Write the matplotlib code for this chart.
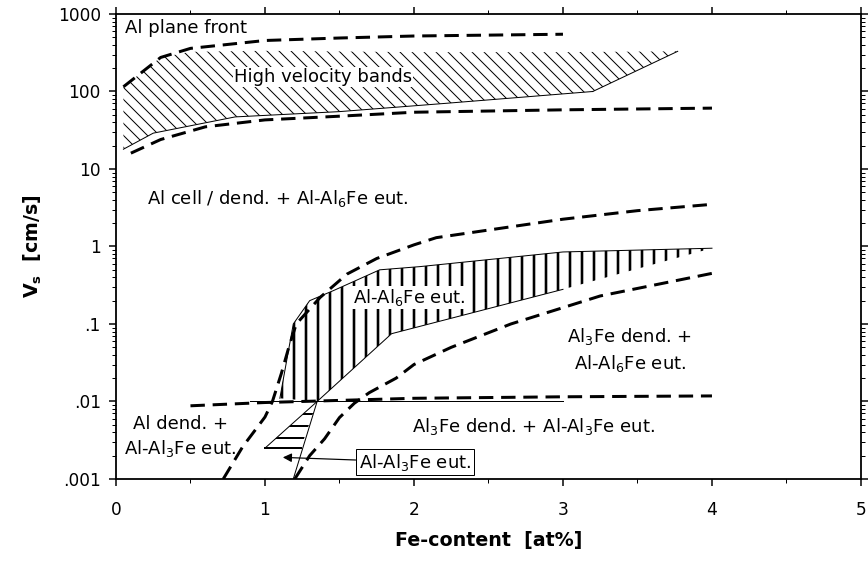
import matplotlib
matplotlib.use("Agg")
import matplotlib.pyplot as plt
from matplotlib.ticker import LogLocator, MultipleLocator, NullFormatter

# dashed phase boundaries (Fe at%, Vs cm/s)
front_x = [0.05, 0.3, 0.5, 1.0, 1.5, 2.0, 3.0]
front_y = [115, 275, 360, 455, 490, 520, 548]

band_low_x = [0.1, 0.3, 0.6, 1.0, 1.5, 2.0, 3.0, 4.0]
band_low_y = [16, 24, 35, 43, 48, 54, 58, 61]

al6_x = [0.72, 0.85, 1.0, 1.05, 1.11, 1.16, 1.21, 1.37, 1.55, 1.75, 2.0, 2.15, 2.5, 3.0, 3.5, 4.0]
al6_y = [0.001, 0.0026, 0.0063, 0.01, 0.023, 0.05, 0.1, 0.22, 0.44, 0.7, 1.05, 1.3, 1.63, 2.25, 2.9, 3.5]

al3_x = [1.2, 1.3, 1.4, 1.5, 1.6, 1.7, 1.88, 2.0, 2.25, 2.65, 3.25, 4.0]
al3_y = [0.001, 0.002, 0.0033, 0.0062, 0.0095, 0.013, 0.02, 0.03, 0.05, 0.1, 0.23, 0.45]

eut_x = [0.5, 1.0, 2.0, 3.0, 4.0]
eut_y = [0.0088, 0.0097, 0.011, 0.0115, 0.0118]

# hatched regions
hv_x = [0.05, 0.3, 0.5, 1.0, 2.0, 3.0, 3.77, 3.2, 2.2, 1.5, 0.8, 0.25, 0.05]
hv_y = [115, 275, 325, 335, 322, 322, 330, 100, 70, 55, 47, 29, 18]

a6_up_x = [1.1, 1.19, 1.3, 1.46, 1.77, 2.04, 3.0, 4.0]
a6_up_y = [0.011, 0.1, 0.2, 0.27, 0.5, 0.55, 0.85, 0.95]
a6_lo_x = [3.0, 1.85, 1.35]
a6_lo_y = [0.28, 0.075, 0.01]

a3_x = [1.35, 1.0, 1.24]
a3_y = [0.01, 0.0025, 0.0025]

fig = plt.figure(figsize=(868 / 72, 562 / 72), dpi=72)
ax = fig.add_axes([0.1336, 0.1477, 0.8583, 0.8274])
ax.set_yscale("log")
ax.set_xlim(0, 5)
ax.set_ylim(0.001, 1000)

dash = dict(color="black", lw=3, dashes=(4.8, 2.6), solid_capstyle="butt", zorder=4)
ax.plot(front_x, front_y, **dash)
ax.plot(band_low_x, band_low_y, **dash)
ax.plot(al6_x, al6_y, **dash)
ax.plot(al3_x, al3_y, **dash)
ax.plot(eut_x, eut_y, **dash)

with plt.rc_context({"hatch.linewidth": 1.0}):
    ax.fill(hv_x, hv_y, facecolor="none", edgecolor="black", lw=0, hatch="\\\\", zorder=2)
with plt.rc_context({"hatch.linewidth": 2.6}):
    ax.fill(a6_up_x + [3.0] + a6_lo_x, a6_up_y + [0.28] + a6_lo_y,
            facecolor="none", edgecolor="black", lw=0, hatch="|", zorder=2)
with plt.rc_context({"hatch.linewidth": 2.0}):
    ax.fill(a3_x, a3_y, facecolor="none", edgecolor="black", lw=0, hatch="-", zorder=2)

thin = dict(color="black", lw=1, zorder=3)
ax.plot(hv_x[7:], hv_y[7:], **thin)
ax.plot(hv_x[6:8], hv_y[6:8], **thin)
ax.plot(a6_up_x, a6_up_y, **thin)
ax.plot(a6_lo_x, a6_lo_y, **thin)
ax.plot([0.9, 3.0], [0.01, 0.01], **thin)
ax.plot([1.35, 1.0, 1.24], [0.01, 0.0025, 0.0025], **thin)
ax.plot([1.0, 1.24], [0.0025, 0.0025], color="black", lw=2, zorder=3)
ax.plot([1.35, 1.19], [0.01, 0.001], **thin)

fs = 18
white = dict(facecolor="white", edgecolor="none", pad=1)
ax.text(0.06, 660, "Al plane front", fontsize=fs, va="center")
ax.text(0.79, 154, "High velocity bands", fontsize=fs, va="center", bbox=white, zorder=5)
ax.text(0.21, 4.2, "Al cell / dend. + Al-Al$_6$Fe eut.", fontsize=fs, va="center")
ax.text(1.59, 0.22, "Al-Al$_6$Fe eut.", fontsize=fs, va="center", bbox=white, zorder=5)
ax.text(3.45, 0.046, "Al$_3$Fe dend. +\nAl-Al$_6$Fe eut.", fontsize=fs,
        ha="center", va="center", multialignment="center", linespacing=1.35)
ax.text(0.43, 0.0035, "Al dend. +\nAl-Al$_3$Fe eut.", fontsize=fs,
        ha="center", va="center", multialignment="center", linespacing=1.35)
ax.text(1.99, 0.0047, "Al$_3$Fe dend. + Al-Al$_3$Fe eut.", fontsize=fs, va="center")
ax.annotate("Al-Al$_3$Fe eut.", xy=(1.12, 0.0019), xytext=(1.63, 0.00165),
            fontsize=fs, va="center", ha="left", zorder=6,
            bbox=dict(boxstyle="square,pad=0.15", facecolor="white", edgecolor="black", lw=1),
            arrowprops=dict(arrowstyle="-|>", color="black", lw=1.2, shrinkA=0, shrinkB=0))

ax.set_yticks([0.001, 0.01, 0.1, 1, 10, 100, 1000])
ax.set_yticklabels([".001", ".01", ".1", "1", "10", "100", "1000"])
ax.yaxis.set_minor_locator(LogLocator(base=10, subs=range(2, 10)))
ax.yaxis.set_minor_formatter(NullFormatter())
ax.set_xticks([0, 1, 2, 3, 4, 5])
ax.xaxis.set_minor_locator(MultipleLocator(0.5))
ax.tick_params(which="both", direction="out", top=True, right=True, labelsize=17, width=1.5)
ax.tick_params(which="major", length=7)
ax.tick_params(which="minor", length=4, width=1)
ax.tick_params(axis="x", pad=15)
ax.tick_params(axis="y", pad=8)
for sp in ax.spines.values():
    sp.set_linewidth(1.8)

ax.set_xlabel("Fe-content  [at%]", fontsize=19, fontweight="bold", labelpad=12)
ax.set_ylabel(r"$\mathbf{V_s}$  [cm/s]", fontsize=19, fontweight="bold", labelpad=14)

fig.savefig("out.png", dpi=72)
